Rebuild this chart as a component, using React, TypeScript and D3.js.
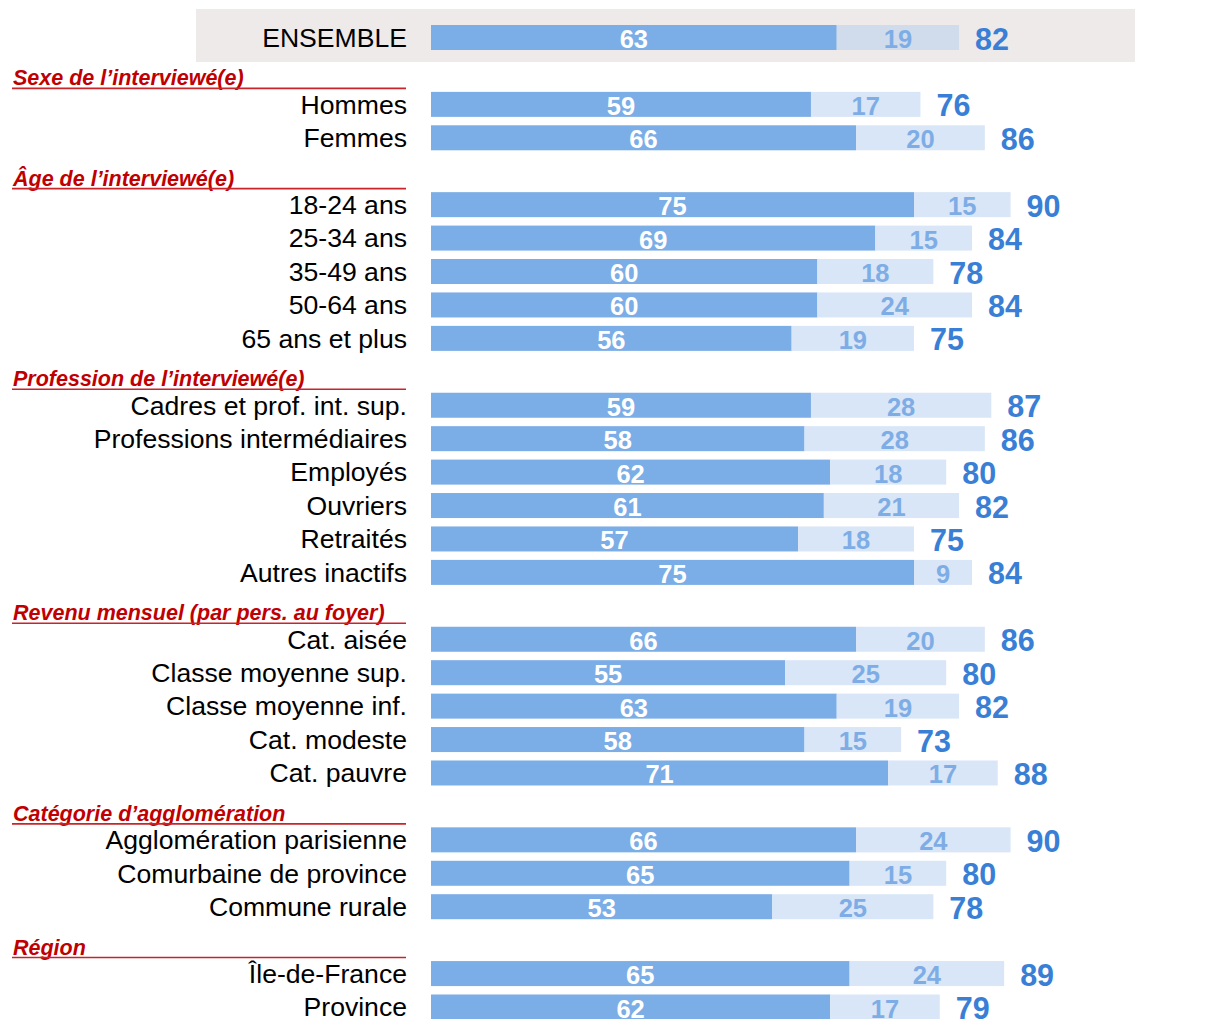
import React from 'react';
import * as d3 from 'd3';

// Rows in display order; a header row has no values
const labels = [
  'ENSEMBLE',
  "Sexe de l’interviewé(e)", 'Hommes', 'Femmes',
  "Âge de l’interviewé(e)", '18-24 ans', '25-34 ans', '35-49 ans', '50-64 ans', '65 ans et plus',
  "Profession de l’interviewé(e)", 'Cadres et prof. int. sup.', 'Professions intermédiaires', 'Employés', 'Ouvriers', 'Retraités', 'Autres inactifs',
  'Revenu mensuel (par pers. au foyer)', 'Cat. aisée', 'Classe moyenne sup.', 'Classe moyenne inf.', 'Cat. modeste', 'Cat. pauvre',
  'Catégorie d’agglomération', 'Agglomération parisienne', 'Comurbaine de province', 'Commune rurale',
  'Région', 'Île-de-France', 'Province',
];
const headers = [
  "Sexe de l’interviewé(e)", "Âge de l’interviewé(e)", "Profession de l’interviewé(e)",
  'Revenu mensuel (par pers. au foyer)', 'Catégorie d’agglomération', 'Région',
];
// values per non-header row, same order
const strong = [63, 59, 66, 75, 69, 60, 60, 56, 59, 58, 62, 61, 57, 75, 66, 55, 63, 58, 71, 66, 65, 53, 65, 62];
const weak = [19, 17, 20, 15, 15, 18, 24, 19, 28, 28, 18, 21, 18, 9, 20, 25, 19, 15, 17, 24, 15, 25, 24, 17];
const totals = [82, 76, 86, 90, 84, 78, 84, 75, 87, 86, 80, 82, 75, 84, 86, 80, 82, 73, 88, 90, 80, 78, 89, 79];

const W = 1227;
const H = 1019;

export default function App() {
  const x = d3.scaleLinear().domain([0, 100]).range([431, 1075]);
  const y = d3.scaleLinear().domain([0, labels.length - 1]).range([37.5, 1007]);
  const barH = 25;
  const font = 'Arial, "Liberation Sans", sans-serif';

  let k = 0;
  const rows = labels.map((label, i) => {
    if (headers.includes(label)) return { label, i, header: true };
    const r = { label, i, header: false, a: strong[k], b: weak[k], t: totals[k] };
    k++;
    return r;
  });

  return (
    <svg width={W} height={H} style={{ position: 'absolute', left: 0, top: 0 }} fontFamily={font}>
      <rect x={196} y={9} width={939} height={53} fill="#eeeaea" />
      {rows.map(r => {
        const cy = y(r.i);
        if (r.header) {
          const ul = y(r.i + 1) - 16;
          return (
            <g key={r.label}>
              <text x={13} y={ul - 3} fontSize={21.5} fontWeight="bold" fontStyle="italic" fill="#c00000">{r.label}</text>
              <line x1={12} x2={406} y1={ul} y2={ul} stroke="#c8242a" strokeWidth={1.6} />
            </g>
          );
        }
        const ens = r.i === 0;
        return (
          <g key={r.label}>
            <text x={407} y={cy + 9.3} fontSize={26.6} textAnchor="end" fill="#000">{r.label}</text>
            <rect x={x(0)} y={cy - barH / 2} width={x(r.a) - x(0)} height={barH} fill="#7badE6" />
            <rect x={x(r.a)} y={cy - barH / 2} width={x(r.a + r.b) - x(r.a)} height={barH} fill={ens ? '#d0dcec' : '#d9e6f7'} />
            <text x={(x(0) + x(r.a)) / 2} y={cy + 10.5} fontSize={25.5} fontWeight="bold" textAnchor="middle" fill="#fff">{r.a}</text>
            <text x={(x(r.a) + x(r.a + r.b)) / 2} y={cy + 10.5} fontSize={25.5} fontWeight="bold" textAnchor="middle" fill="#7eade6">{r.b}</text>
            <text x={x(r.a + r.b) + 16} y={cy + 12} fontSize={30.5} fontWeight="bold" fill="#3a7fd6">{r.t}</text>
          </g>
        );
      })}
    </svg>
  );
}
